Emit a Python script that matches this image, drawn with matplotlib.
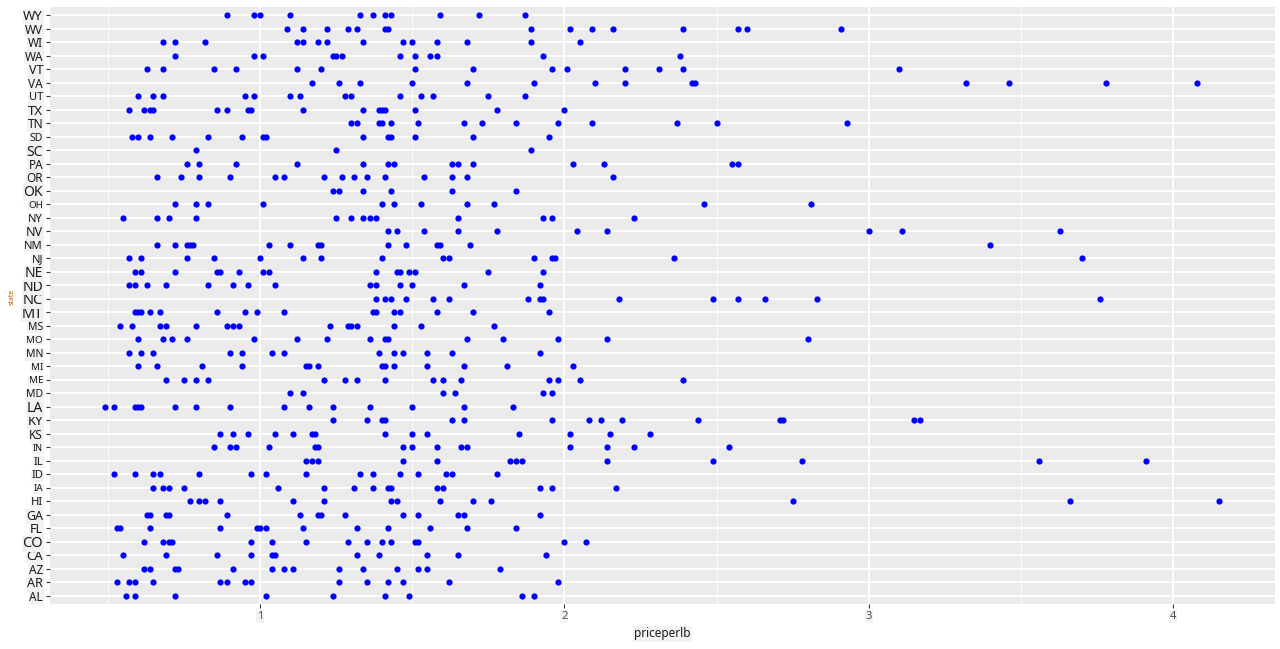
import matplotlib
matplotlib.use("Agg")
import matplotlib.pyplot as plt
from matplotlib.ticker import MultipleLocator

states = ["AL", "AR", "AZ", "CA", "CO", "FL", "GA", "HI", "IA", "ID", "IL", "IN",
          "KS", "KY", "LA", "MD", "ME", "MI", "MN", "MO", "MS", "MT", "NC", "ND",
          "NE", "NJ", "NM", "NV", "NY", "OH", "OK", "OR", "PA", "SC", "SD", "TN",
          "TX", "UT", "VA", "VT", "WA", "WI", "WV", "WY"]

AL = [0.56, 0.59, 0.72, 1.02, 1.24, 1.41, 1.49, 1.86, 1.90]
AR = [0.53, 0.57, 0.59, 0.65, 0.87, 0.89, 0.95, 0.97, 1.26, 1.35, 1.42, 1.47, 1.62, 1.98]
AZ = [0.62, 0.64, 0.72, 0.73, 0.91, 1.04, 1.08, 1.11, 1.26, 1.34, 1.45, 1.52, 1.55, 1.79]
CA = [0.55, 0.69, 0.86, 0.97, 1.04, 1.05, 1.32, 1.39, 1.55, 1.65, 1.94]
CO = [0.62, 0.68, 0.70, 0.71, 0.97, 1.04, 1.15, 1.29, 1.35, 1.40, 1.43, 1.51, 1.52, 2.00, 2.07]
FL = [0.53, 0.54, 0.64, 0.87, 0.99, 1.00, 1.02, 1.14, 1.32, 1.42, 1.56, 1.68, 1.84]
GA = [0.63, 0.64, 0.69, 0.70, 0.89, 1.13, 1.19, 1.20, 1.28, 1.47, 1.52, 1.65, 1.67, 1.92]
HI = [0.77, 0.80, 0.82, 0.87, 1.11, 1.21, 1.43, 1.45, 1.59, 1.70, 1.76, 2.75, 3.66, 4.15]
IA = [0.65, 0.68, 0.70, 0.75, 1.06, 1.21, 1.31, 1.37, 1.42, 1.43, 1.58, 1.60, 1.92, 1.96, 2.17]
ID = [0.52, 0.59, 0.65, 0.67, 0.80, 0.97, 1.02, 1.15, 1.33, 1.37, 1.46, 1.52, 1.61, 1.63, 1.78]
IL = [1.15, 1.17, 1.19, 1.47, 1.58, 1.82, 1.84, 1.86, 2.14, 2.49, 2.78, 3.56, 3.91]
IN = [0.85, 0.90, 0.92, 1.03, 1.18, 1.19, 1.47, 1.50, 1.58, 1.66, 1.68, 2.02, 2.14, 2.23, 2.54]
KS = [0.87, 0.91, 0.96, 1.05, 1.11, 1.17, 1.18, 1.41, 1.50, 1.55, 1.85, 2.02, 2.15, 2.28]
KY = [1.24, 1.35, 1.40, 1.41, 1.63, 1.67, 1.96, 2.08, 2.12, 2.19, 2.44, 2.71, 2.72, 3.15, 3.17]
LA = [0.49, 0.52, 0.59, 0.60, 0.61, 0.72, 0.79, 0.90, 1.08, 1.16, 1.24, 1.36, 1.50, 1.67, 1.83]
MD = [1.10, 1.14, 1.60, 1.64, 1.93, 1.96]
ME = [0.69, 0.75, 0.79, 0.83, 1.21, 1.28, 1.32, 1.41, 1.57, 1.60, 1.66, 1.95, 1.98, 2.05, 2.39]
MI = [0.60, 0.66, 0.81, 0.94, 1.15, 1.16, 1.19, 1.40, 1.41, 1.44, 1.55, 1.67, 1.81, 2.03]
MN = [0.57, 0.61, 0.65, 0.90, 0.94, 1.04, 1.08, 1.39, 1.44, 1.47, 1.55, 1.63, 1.92]
MO = [0.60, 0.68, 0.71, 0.76, 0.98, 1.12, 1.22, 1.36, 1.41, 1.42, 1.68, 1.80, 1.98, 2.14, 2.80]
MS = [0.54, 0.58, 0.67, 0.69, 0.79, 0.89, 0.91, 0.93, 1.23, 1.29, 1.30, 1.32, 1.44, 1.53, 1.77]
MT = [0.59, 0.60, 0.61, 0.64, 0.67, 0.86, 0.95, 0.99, 1.08, 1.37, 1.38, 1.44, 1.46, 1.58, 1.70, 1.95]
NC = [1.38, 1.41, 1.43, 1.48, 1.57, 1.62, 1.88, 1.92, 1.93, 2.18, 2.49, 2.57, 2.66, 2.83, 3.76]
ND = [0.57, 0.59, 0.63, 0.69, 0.83, 0.91, 0.96, 1.05, 1.36, 1.38, 1.46, 1.50, 1.67, 1.92]
NE = [0.59, 0.61, 0.72, 0.86, 0.87, 0.93, 1.01, 1.03, 1.38, 1.45, 1.46, 1.49, 1.51, 1.75, 1.93]
NJ = [0.57, 0.61, 0.76, 0.85, 1.00, 1.14, 1.20, 1.40, 1.60, 1.62, 1.90, 1.96, 1.97, 2.36, 3.70]
NM = [0.66, 0.72, 0.76, 0.77, 0.78, 1.03, 1.10, 1.19, 1.20, 1.42, 1.48, 1.58, 1.59, 1.69, 3.40]
NV = [1.42, 1.45, 1.54, 1.65, 1.78, 2.04, 2.14, 3.00, 3.11, 3.63]
NY = [0.55, 0.66, 0.70, 0.79, 1.25, 1.30, 1.34, 1.36, 1.38, 1.65, 1.93, 1.96, 2.23]
OH = [0.72, 0.79, 0.83, 1.01, 1.40, 1.44, 1.53, 1.68, 1.77, 2.46, 2.81]
OK = [1.24, 1.26, 1.34, 1.43, 1.63, 1.84]
OR = [0.66, 0.74, 0.80, 0.90, 1.05, 1.08, 1.21, 1.27, 1.31, 1.35, 1.41, 1.54, 1.63, 1.68, 2.16]
PA = [0.76, 0.80, 0.92, 1.12, 1.34, 1.42, 1.44, 1.63, 1.65, 1.70, 2.03, 2.13, 2.55, 2.57]
SC = [0.79, 1.25, 1.89]
SD = [0.58, 0.60, 0.64, 0.71, 0.83, 0.94, 1.01, 1.02, 1.34, 1.42, 1.43, 1.51, 1.70, 1.95]
TN = [1.30, 1.32, 1.39, 1.40, 1.43, 1.52, 1.67, 1.73, 1.84, 1.98, 2.09, 2.37, 2.50, 2.93]
TX = [0.57, 0.62, 0.64, 0.65, 0.86, 0.89, 0.96, 0.97, 1.14, 1.34, 1.39, 1.40, 1.41, 1.51, 1.78, 2.00]
UT = [0.60, 0.65, 0.68, 0.95, 0.98, 1.10, 1.13, 1.28, 1.30, 1.46, 1.53, 1.57, 1.75, 1.87]
VA = [1.17, 1.26, 1.33, 1.50, 1.68, 1.90, 2.10, 2.20, 2.42, 2.43, 3.32, 3.46, 3.78, 4.08]
VT = [0.63, 0.68, 0.85, 0.92, 1.12, 1.20, 1.51, 1.70, 1.96, 2.01, 2.20, 2.31, 2.39, 3.10]
WA = [0.72, 0.98, 1.01, 1.24, 1.25, 1.27, 1.46, 1.51, 1.56, 1.58, 1.93, 2.38]
WI = [0.68, 0.72, 0.82, 1.12, 1.14, 1.19, 1.22, 1.34, 1.47, 1.50, 1.58, 1.68, 1.89, 2.05]
WV = [1.09, 1.14, 1.22, 1.29, 1.32, 1.41, 1.42, 1.89, 2.02, 2.09, 2.16, 2.39, 2.57, 2.60, 2.91]
WY = [0.89, 0.98, 1.00, 1.10, 1.33, 1.37, 1.41, 1.43, 1.59, 1.72, 1.87]

prices = {"AL": AL, "AR": AR, "AZ": AZ, "CA": CA, "CO": CO, "FL": FL, "GA": GA, "HI": HI,
          "IA": IA, "ID": ID, "IL": IL, "IN": IN, "KS": KS, "KY": KY, "LA": LA, "MD": MD,
          "ME": ME, "MI": MI, "MN": MN, "MO": MO, "MS": MS, "MT": MT, "NC": NC, "ND": ND,
          "NE": NE, "NJ": NJ, "NM": NM, "NV": NV, "NY": NY, "OH": OH, "OK": OK, "OR": OR,
          "PA": PA, "SC": SC, "SD": SD, "TN": TN, "TX": TX, "UT": UT, "VA": VA, "VT": VT,
          "WA": WA, "WI": WI, "WV": WV, "WY": WY}

x_ticks = [1, 2, 3, 4]
x_label = "priceperlb"
y_label = "state"

# per-label font sizes (the reference renders tick labels at uneven sizes)
label_sizes = {"WY": 9.5, "WV": 8.5, "WI": 8.5, "WA": 8.5, "VT": 9, "VA": 8.5, "UT": 8,
               "TX": 9.5, "TN": 8.5, "SD": 7.5, "SC": 10, "PA": 8.5, "OR": 8.5, "OK": 10,
               "OH": 7, "NY": 8, "NV": 9, "NM": 8, "NJ": 8, "NE": 10, "ND": 10, "NC": 10.5,
               "MT": 10.5, "MS": 7.5, "MO": 7, "MN": 7.5, "MI": 7, "ME": 7, "MD": 7.5,
               "LA": 10, "KY": 9.5, "KS": 8.5, "IN": 6.5, "IL": 8, "ID": 8, "IA": 7,
               "HI": 8, "GA": 9, "FL": 9, "CO": 10.5, "CA": 9.5, "AZ": 8.5, "AR": 9, "AL": 8.5}

plt.rcParams["font.family"] = ["Noto Sans", "DejaVu Sans"]

fig = plt.figure(figsize=(12.8, 6.49), dpi=100)
ax = fig.add_axes([50 / 1280, 1 - 604 / 649, 1225 / 1280, 597 / 649])
ax.set_facecolor("#EBEBEB")

for i, s in enumerate(states):
    vals = prices[s]
    ax.scatter(vals, [i] * len(vals), s=20, color="#0000FF", linewidths=0, zorder=3)

ax.set_xlim(0.31, 4.335)
ax.set_ylim(-0.6, len(states) - 0.4)
ax.set_xticks(x_ticks)
ax.set_xticklabels([str(t) for t in x_ticks])
ax.xaxis.set_minor_locator(MultipleLocator(0.5))
ax.set_yticks(range(len(states)))
ax.set_yticklabels(states)

ax.grid(which="major", axis="both", color="white", linewidth=1.3, zorder=0)
ax.grid(which="minor", axis="x", color="white", linewidth=0.6, zorder=0)
ax.set_axisbelow(True)
for sp in ax.spines.values():
    sp.set_visible(False)

ax.tick_params(axis="both", which="major", length=3, width=0.8, color="#333333", pad=2)
ax.tick_params(axis="x", which="minor", length=0)
ax.tick_params(axis="x", labelsize=8, labelcolor="#4D4D4D")

for lab in ax.get_yticklabels():
    t = lab.get_text()
    lab.set_fontsize(label_sizes.get(t, 8.5))
    lab.set_color("#1a1a1a")
    lab.set_bbox(dict(facecolor="#F2F2F2", edgecolor="none", pad=0.5))
    if t == "LA":
        lab.set_fontweight("bold")
for lab in ax.get_xticklabels():
    lab.set_bbox(dict(facecolor="#F2F2F2", edgecolor="none", pad=0.5))

ax.set_xlabel(x_label, fontsize=8.5, color="#1a1a1a", labelpad=4,
              bbox=dict(facecolor="#F2F2F2", edgecolor="none", pad=0.8))
fig.text(12 / 1280, 1 - 297 / 649, y_label, rotation=90, fontsize=5, color="#B35900",
         ha="center", va="center")

fig.savefig("out.png", dpi=100, facecolor="white")
